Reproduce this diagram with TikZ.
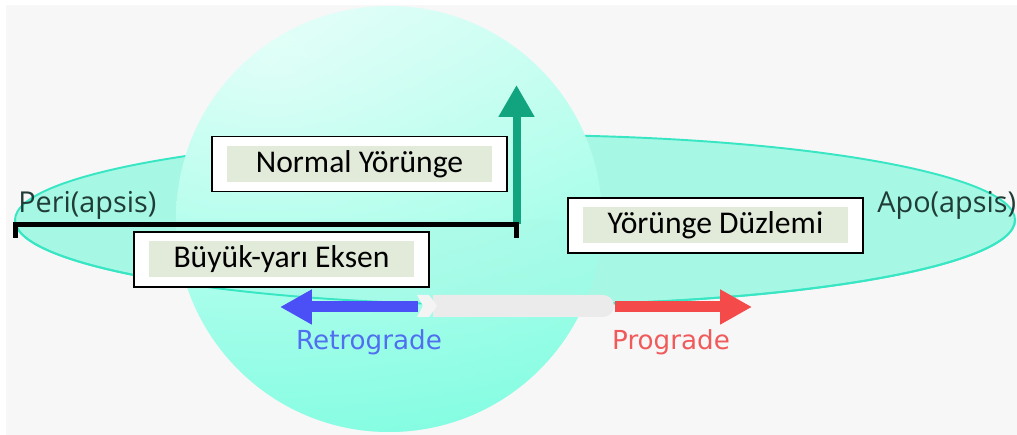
\documentclass[tikz,border=0pt]{standalone}
\usepackage{fontspec}
\usepackage{xcolor}
\usepackage{tikz}
\usetikzlibrary{arrows.meta,positioning,calc}

\newfontfamily\boxfont{Carlito}
\newfontfamily\apsisfont{Open Sans}
\newfontfamily\dirfont{DejaVu Sans}

\definecolor{paper}{RGB}{247,247,247}
\definecolor{spherecol}{RGB}{116,253,222}
\definecolor{planecol}{RGB}{166,247,228}
\definecolor{planeedge}{RGB}{56,230,196}
\definecolor{normalcol}{RGB}{17,164,127}
\definecolor{labelfill}{RGB}{226,235,218}
\definecolor{retrocol}{RGB}{74,80,245}
\definecolor{procol}{RGB}{245,74,74}
\definecolor{retrotext}{RGB}{80,110,240}
\definecolor{protext}{RGB}{240,90,90}
\definecolor{apsiscol}{RGB}{32,60,55}
\definecolor{bodycol}{RGB}{235,235,235}
\definecolor{tailcol}{RGB}{244,244,244}

\begin{document}
\begin{tikzpicture}[
  x=0.02cm, y=0.02cm,
  frame/.style={draw=black, line width=1.1pt, fill=white,
                minimum width=5.9cm, minimum height=1.1cm, inner sep=0pt},
  tag/.style={fill=labelfill, minimum width=5.3cm, minimum height=0.72cm,
              inner sep=0pt, font=\boxfont\fontsize{18}{21}\selectfont},
  apsis/.style={apsiscol, inner sep=0pt, anchor=base west,
                font=\apsisfont\fontsize{16.4}{19}\selectfont},
  dirlabel/.style={inner sep=0pt, anchor=base,
                   font=\dirfont\fontsize{14.9}{18}\selectfont},
  planeline/.style={planeedge, line width=1.1pt},
  bracket/.style={black, line width=0.09cm},
  normalarrow/.style={normalcol, line width=0.16cm,
                      -{Triangle[width=0.68cm, length=0.64cm]}},
  dirarrow/.style={line width=0.22cm, -{Triangle[width=0.66cm, length=0.64cm]}}
]
  \useasboundingbox (0,0) rectangle (1017,435);
  \fill[white] (0,0) rectangle (1017,435);
  \fill[paper] (6,0) rectangle (1017,430);

  \coordinate (plane)  at (515,215);
  \coordinate (sphere) at (389,216);
  \coordinate (glint)  at (270,370);
  \coordinate (peripoint) at (15.5,210.5);
  \coordinate (centre) at (516.5,210.5);
  \coordinate (normaltip) at (516.5,350);
  \coordinate (tail) at (418,128);
  \coordinate (nose) at (615,128);
  \coordinate (retrotip) at (280,128);
  \coordinate (protip) at (752,128);

  \fill[planecol] (plane) ellipse[x radius=500, y radius=85];
  \draw[planeline] (plane) ellipse[x radius=500, y radius=85];

  \begin{scope}
    \clip (sphere) circle[radius=213];
    \shade[top color=white!85!spherecol, middle color=white!22!spherecol,
           bottom color=spherecol] (sphere) circle[radius=213];
    \shade[inner color=white!80!spherecol, outer color=spherecol,
           opacity=.45] (glint) circle[radius=600];
    \fill[planecol, fill opacity=.3] (15,215)
      arc[start angle=180, end angle=360, x radius=500, y radius=85] -- cycle;
  \end{scope}
  \draw[planeline] (15,215)
    arc[start angle=180, end angle=360, x radius=500, y radius=85];

  \draw[normalarrow] (centre) -- (normaltip);
  \draw[bracket] ($(peripoint)+(0,-13.5)$) |- (centre) -- ++(0,-13.5);

  \node[frame] (normalframe) at (359.5,271) {};
  \node[tag] (normal) at (normalframe) {Normal Yörünge};
  \node[frame] (axisframe) at (281.5,175.5) {};
  \node[tag] (axis) at (axisframe) {Büyük-yarı Eksen};
  \node[frame] (planeframe) at (715.5,209.5) {};
  \node[tag] (planelabel) at (planeframe) {Yörünge Düzlemi};

  \fill[bodycol] (433,118) -- (603,118) to[out=0, in=-90] (614,129)
    to[out=90, in=0] (603,140) -- (433,140) -- cycle;
  \fill[tailcol] (417,118) -- (429,118) -- (437,129) -- (429,140)
    -- (417,140) -- (423,129) -- cycle;

  \draw[dirarrow, retrocol] (tail) -- (retrotip);
  \draw[dirarrow, procol] (nose) -- (protip);

  \node[apsis] (peri) at (18,222) {Peri(apsis)};
  \node[apsis] (apo) at (877,222) {Apo(apsis)};
  \node[dirlabel, retrotext] (retro) at (369,85) {Retrograde};
  \node[dirlabel, protext] (pro) at (671,85) {Prograde};
\end{tikzpicture}
\end{document}
